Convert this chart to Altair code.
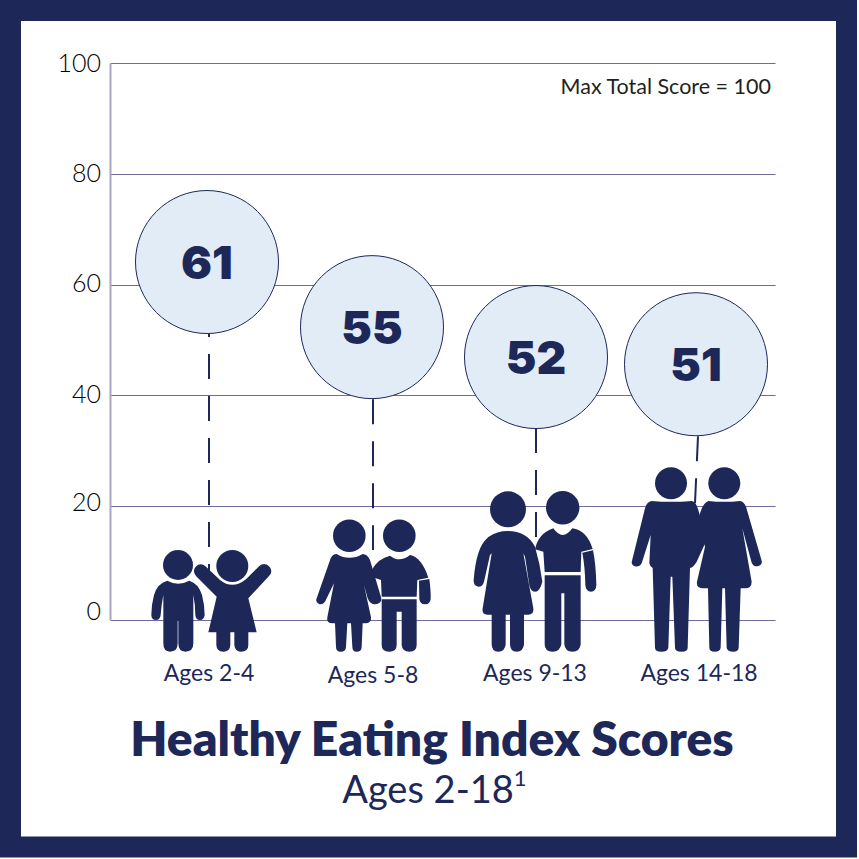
import re
import altair as alt
import pandas as pd

NAVY = "#1d2859"
GRID = "#6f6c99"
AXIS = "#a9a6c4"
BUBBLE = "#e2ecf7"
FONT = "Lato"
HEAVY = "Inter"

# --- data -----------------------------------------------------------------
groups = ["Ages 2-4", "Ages 5-8", "Ages 9-13", "Ages 14-18"]
scores = [61, 55, 52, 51]
bubble_x = [207, 372, 536, 696]
bubble_y = [64.06, 52.3, 46.9, 45.6]
stem_x = [209, 373, 536, 698]
stem_x2 = [209, 373, 536, 695]
stem_top = [51.06, 39.3, 34.1, 32.6]
stem_bottom = [5.96, 12.3, 14.4, 20.5]
stem_phase = [22, 0, 0, 0]
label_x = [209, 373, 535, 699]
label_y = [673, 675, 673, 673]

tick_values = [0, 20, 40, 60, 80, 100]
tick_label_y = [1.4, 20.55, 40.1, 60.1, 80, 99.8]

figures = ["boy1", "girl1", "girl2", "boy2", "girl3", "boy3", "man", "woman"]
head_x = [178, 232.3, 349.3, 399.3, 508, 562.7, 671, 724.3]
head_y = [9.65, 9.47, 14.79, 14.79, 19.42, 19.7, 24.1, 24.1]
head_r = [15, 16, 16.3, 16.3, 18, 16.7, 16, 16]
foot_y = -5.56

CROP_A = (140, 530)
CROP_B = (460, 450)
outlines = [
    (CROP_A, "M 82 152 Q 114 170 148 152 Q 175 160 186 195 Q 194 225 194 255 Q 192 270 180 270 Q 167 270 166 255 Q 166 225 160 195 L 160 340 Q 160 365 136 365 Q 115 365 115 340 L 115 272 L 113 272 L 113 340 Q 113 365 90 365 Q 70 365 70 340 L 70 195 Q 64 225 62 255 Q 60 270 48 270 Q 34 270 34 255 Q 34 225 42 195 Q 52 160 82 152 Z"),
    (CROP_A, "M 240 150 Q 277 180 318 148 L 358 108 Q 375 95 390 112 Q 400 128 385 140 L 325 205 L 350 307 L 325 307 L 325 345 Q 325 365 303 365 Q 285 365 283 345 L 283 307 L 271 307 L 271 345 Q 270 365 250 365 Q 230 365 229 345 L 229 307 L 205 307 L 230 200 L 170 140 Q 155 125 167 110 Q 182 96 198 110 Z"),
    (CROP_A, "M 590 72 Q 628 95 668 72 Q 682 72 690 90 L 724 205 Q 725 222 705 223 Q 690 223 683 205 L 672 165 L 693 262 Q 695 280 675 280 L 668 280 L 665 350 Q 665 365 650 365 Q 637 365 637 350 L 633 280 L 622 280 L 618 350 Q 618 365 602 365 Q 588 365 588 350 L 585 280 L 578 280 Q 558 280 562 262 L 582 160 L 555 215 Q 548 225 537 222 Q 525 215 530 205 L 572 85 Q 578 72 590 72 Z"),
    (CROP_A, "M 750 77 Q 778 100 810 75 Q 845 82 865 143 L 832 150 L 830 200 L 725 200 L 723 150 L 703 143 L 695 120 Q 715 85 750 77 Z M 725 208 L 830 208 L 830 345 Q 830 365 808 365 Q 787 365 785 345 L 785 245 L 770 245 L 770 345 Q 770 365 748 365 Q 725 365 725 345 Z M 837 152 L 868 147 Q 873 185 872 208 Q 870 223 855 223 Q 840 223 838 208 Z"),
    (CROP_B, "M 144 243 Q 200 243 225 290 Q 240 340 247 395 Q 240 425 225 425 Q 212 425 208 405 L 195 320 L 190 310 L 220 475 Q 222 494 205 494 L 192 494 L 192 583 Q 190 605 170 605 Q 150 605 150 583 L 150 494 L 137 494 L 137 583 Q 135 605 115 605 Q 95 605 95 583 L 95 494 L 82 494 Q 65 494 68 475 L 95 310 L 90 315 L 72 395 Q 68 410 56 410 Q 40 408 41 390 Q 45 340 55 310 Q 75 243 144 243 Z"),
    (CROP_B, "M 280 235 Q 308 275 337 235 Q 380 240 398 297 L 364 305 L 362 366 L 254 366 L 250 305 L 225 298 Q 235 250 280 235 Z M 254 376 L 362 376 L 362 583 Q 360 605 337 605 Q 315 605 313 583 L 313 430 L 304 430 L 304 583 Q 300 605 278 605 Q 254 605 254 583 Z M 367 308 L 399 301 Q 408 345 409 405 Q 408 425 393 425 Q 378 425 376 405 Q 375 350 367 308 Z"),
    (CROP_B, "M 575 153 Q 633 158 695 153 Q 708 155 715 180 L 740 270 L 710 335 Q 700 352 690 354 L 683 593 Q 683 605 665 605 Q 645 605 645 593 L 637 380 L 632 380 L 625 593 Q 623 605 605 605 Q 585 605 585 593 L 578 354 Q 570 350 568 340 L 572 255 L 545 340 Q 538 352 525 349 Q 512 345 516 332 L 555 175 Q 560 155 575 153 Z"),
    (CROP_B, "M 745 153 Q 793 158 840 153 Q 852 155 858 170 L 905 332 Q 908 346 892 349 Q 880 350 875 338 L 847 235 L 875 395 Q 875 415 855 415 L 842 415 L 836 593 Q 835 605 820 605 Q 802 605 800 593 L 795 415 L 787 415 L 782 593 Q 780 605 765 605 Q 748 605 748 593 L 744 415 L 730 415 Q 708 415 711 395 L 735 290 L 715 210 Q 725 160 745 153 Z"),
]
FOOT_PX = 651.7


def relative(outline, crop, ax):
    def conv(m):
        x = crop[0] + float(m.group(1)) / 3 - ax
        y = crop[1] + float(m.group(2)) / 3 - FOOT_PX
        return f"{x:.2f} {y:.2f}"
    return re.sub(r"(-?\d+(?:\.\d+)?) (-?\d+(?:\.\d+)?)", conv, outline)


shapes = [relative(o, c, ax) for (c, o), ax in zip(outlines, head_x)]

# --- scales ---------------------------------------------------------------
W, H = 665, 557
LEFT, TOP = 110, 63
xs = alt.Scale(domain=[110, 775], range=[0, W])
ys = alt.Scale(domain=[0, 20, 100], range=[H, 443, 0])
yaxis = alt.Axis(
    values=tick_values, grid=True, gridColor=GRID, gridWidth=1, ticks=False, labels=False,
    domain=True, domainColor=AXIS, domainWidth=2, title=None,
)
X = lambda f: alt.X(f, type="quantitative", scale=xs, axis=None)
Y = lambda f: alt.Y(f, type="quantitative", scale=ys, axis=yaxis)
one = alt.Data(values=[{"a": 1}])


def text(s, x, y, size, font=FONT, weight=400, color=NAVY, align="center"):
    return alt.Chart(one).mark_text(
        font=font, fontSize=size, fontWeight=weight, color=color, align=align, baseline="alphabetic"
    ).encode(x=alt.value(x - LEFT), y=alt.value(y - TOP), text=alt.value(s))


# --- layers ---------------------------------------------------------------
frame = alt.Chart(one).mark_rect(fill="transparent", stroke=NAVY, strokeWidth=21).encode(
    x=alt.value(10.5 - LEFT), x2=alt.value(846.5 - LEFT), y=alt.value(10.5 - TOP), y2=alt.value(847 - TOP)
)

tick_df = pd.DataFrame({"v": tick_label_y, "t": [str(t) for t in tick_values], "x": [101] * 6})
tick_labels = alt.Chart(tick_df).mark_text(
    font=FONT, fontSize=25, fontWeight=300, color="#000000", align="right", baseline="middle"
).encode(x=X("x"), y=Y("v"), text="t:N")

stems = []
for i in range(4):
    d = pd.DataFrame({"x": [stem_x[i]], "x2": [stem_x2[i]], "y": [stem_top[i]], "y2": [stem_bottom[i]]})
    stems.append(alt.Chart(d).mark_rule(
        color=NAVY, strokeWidth=2, strokeDash=[25, 17], strokeDashOffset=stem_phase[i]
    ).encode(x=X("x"), x2="x2:Q", y=Y("y"), y2="y2:Q"))

bub_df = pd.DataFrame({"x": bubble_x, "y": bubble_y, "s": scores, "g": groups})
bubbles = alt.Chart(bub_df).mark_point(
    shape="circle", filled=True, fill=BUBBLE, stroke=NAVY, strokeWidth=1, opacity=1,
    size=143 ** 2
).encode(x=X("x"), y=Y("y"))
score_text = alt.Chart(bub_df).mark_text(
    font=HEAVY, fontSize=46, fontWeight=900, color=NAVY, baseline="middle", dy=3
).encode(x=X("x"), y=Y("y"), text="s:Q")

heads_df = pd.DataFrame({"x": head_x, "y": head_y, "area": [(2 * r) ** 2 for r in head_r]})
heads = alt.Chart(heads_df).mark_point(shape="circle", filled=True, color=NAVY, opacity=1).encode(
    x=X("x"), y=Y("y"), size=alt.Size("area:Q", scale=None, legend=None)
)

body_df = pd.DataFrame({"x": head_x, "y": [foot_y] * 8, "f": figures})
bodies = alt.Chart(body_df).mark_point(filled=True, color=NAVY, opacity=1, size=4).encode(
    x=X("x"), y=Y("y"),
    shape=alt.Shape("f:N", scale=alt.Scale(domain=figures, range=shapes), legend=None),
)

age_labels = [text(g, x, y + 8, 23) for g, x, y in zip(groups, label_x, label_y)]

chart = alt.layer(
    frame, *stems, bubbles, score_text, tick_labels, heads, bodies, *age_labels,
    text("Max Total Score = 100", 771, 94, 21.5, color="#231f20", align="right"),
    text("Healthy Eating Index Scores", 432, 756, 48, weight=800),
    text("Ages 2-18", 428, 803, 38),
    text("1", 520, 786, 22),
).properties(
    width=W, height=H, background="white",
    padding={"left": LEFT, "top": TOP, "right": 859 - LEFT - W, "bottom": 859 - TOP - H},
    autosize=alt.AutoSizeParams(type="none"),
).configure_view(stroke=None)

chart.save("out.html", embed_options={
    "renderer": "svg", "actions": False,
    "defaultStyle": "html,body{margin:0;overflow:hidden} svg{display:block}",
})
